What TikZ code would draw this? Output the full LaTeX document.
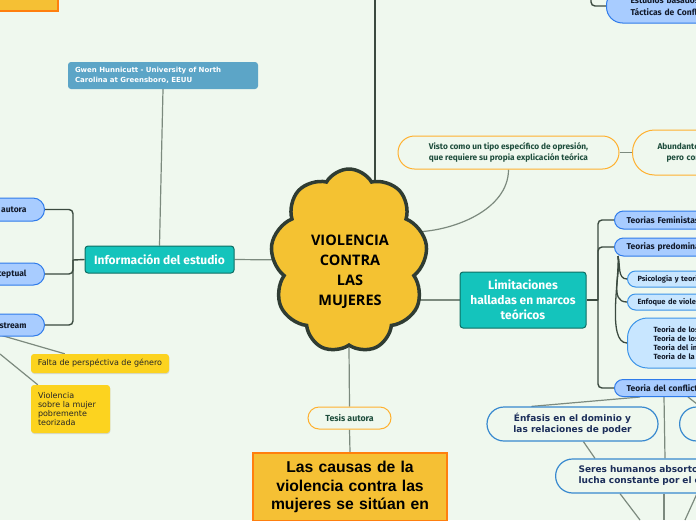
\documentclass[tikz,border=0pt]{standalone}
\usepackage{fontspec}
\setmainfont{Fira Sans}
\newfontfamily\dvs{DejaVu Sans}
\newfontfamily\libs{Liberation Sans}
\newfontfamily\opens{Open Sans}
\usetikzlibrary{shapes.symbols,shadows}
\definecolor{bgc}{HTML}{EFF8EE}
\definecolor{cloudf}{HTML}{F4C232}
\definecolor{cloudb}{HTML}{2F3C33}
\definecolor{boxy}{HTML}{F5C034}
\definecolor{orng}{HTML}{FF7F0E}
\definecolor{tealf}{HTML}{14C4BC}
\definecolor{tealb}{HTML}{0D6E63}
\definecolor{gwenf}{HTML}{5CA5C7}
\definecolor{yelf}{HTML}{FCD31F}
\definecolor{pbf}{HTML}{A8CCFF}
\definecolor{pbb}{HTML}{2F7BEA}
\definecolor{plf}{HTML}{C8E6FF}
\definecolor{plb}{HTML}{3C94E8}
\definecolor{pob}{HTML}{FFB02E}
\definecolor{dgreen}{HTML}{1E4D3C}
\definecolor{navyb}{HTML}{3889CF}
\definecolor{navyt}{HTML}{1C2E5A}
\definecolor{darktxt}{HTML}{121A2A}
\definecolor{conngray}{HTML}{7C8A7E}
\definecolor{darkline}{HTML}{3B4A3F}
\pgfdeclarelayer{bglayer}
\pgfdeclarelayer{edges}
\pgfsetlayers{bglayer,edges,main}
\tikzset{
  conn/.style={draw=conngray, line width=1.2pt},
  brk/.style={draw=darkline, line width=1.4pt, rounded corners=4pt},
  tealbox/.style={draw=tealb, fill=tealf, line width=1pt, rounded corners=3pt, text=white, font=\bfseries\fontsize{12}{15}\selectfont, align=center, inner sep=0pt},
  bluepill/.style={draw=pbb, fill=pbf, line width=1pt, text=darktxt, font=\bfseries\fontsize{8.5}{12}\selectfont, align=left, inner sep=0pt},
  lightpill/.style={draw=plb, fill=plf, line width=1pt, text=darktxt, font=\bfseries\fontsize{7.5}{9.3}\selectfont, align=left, inner sep=0pt},
  orpill/.style={draw=pob, fill=bgc, line width=1pt, text=dgreen, font=\bfseries\fontsize{8.3}{11}\selectfont, align=center, inner sep=0pt},
  navypill/.style={draw=navyb, fill=bgc, line width=1.2pt, text=navyt, font=\dvs\bfseries\fontsize{9}{11}\selectfont, align=center, inner sep=0pt},
  yelbox/.style={fill=yelf, rounded corners=3pt, text=black!85, font=\dvs\fontsize{8}{9.3}\selectfont, inner sep=0pt, drop shadow={opacity=0.25, shadow xshift=0.4pt, shadow yshift=-1pt}},
}
\begin{document}
\begin{tikzpicture}[x=1pt,y=-1pt]
\useasboundingbox (0,0) rectangle (696,520);
\begin{pgfonlayer}{bglayer}
\fill[bgc] (0,0) rectangle (696,520);
\end{pgfonlayer}
\clip (0,0) rectangle (696,520);

% top-left orange box
\node[draw=orng, fill=boxy, line width=2pt, minimum width=70pt, minimum height=22pt, inner sep=0pt] (tl) at (23,0) {};

% cloud
\node[cloud, cloud puffs=9, cloud puff arc=120, aspect=0.85, draw=cloudb, fill=cloudf, line width=3.5pt, minimum width=157pt, minimum height=184pt, inner sep=0pt] (cloud) at (349,261) {};
\node[font=\opens\bfseries\fontsize{14.5}{20}\selectfont, align=center, inner sep=0pt] (cloudtxt) at (350,272) {VIOLENCIA\\CONTRA\\LAS\\MUJERES};

% Gwen
\node[fill=gwenf, rounded corners=3pt, text=white, font=\dvs\bfseries\fontsize{7}{10}\selectfont, align=left, text width=176pt, inner xsep=7pt, minimum height=27pt, inner ysep=0pt] (gwen) at (163,75.5) {Gwen Hunnicutt - University of North\\Carolina at Greensboro, EEUU};

% Informacion
\node[tealbox, minimum width=149pt, minimum height=27pt] (info) at (159.5,259.5) {Información del estudio};

% left pills
\node[bluepill, anchor=east, minimum width=116pt, minimum height=23pt, rounded corners=11.5pt, text width=80pt, align=right, inner xsep=18pt] (pa) at (45,209.5) {la autora};
\node[bluepill, anchor=east, minimum width=116pt, minimum height=22pt, rounded corners=11pt, text width=80pt, align=right, inner xsep=18pt] (pb) at (45,274) {Marco conceptual};
\node[bluepill, anchor=east, minimum width=116pt, minimum height=22pt, rounded corners=11pt, text width=80pt, align=right, inner xsep=18pt] (pc) at (45,325) {mainstream};

% yellow boxes
\node[yelbox, minimum width=138pt, minimum height=19pt] (falta) at (100,363.5) {Falta de perspéctiva de género};
\node[yelbox, minimum width=75pt, minimum height=48pt, text width=65pt, align=left, inner xsep=7pt] (viol) at (70.5,409) {Violencia\\sobre la mujer\\pobremente\\teorizada};

% Tesis
\node[orpill, minimum width=83pt, minimum height=22pt, rounded corners=11pt, font=\bfseries\fontsize{8.8}{10}\selectfont] (tesis) at (349.5,418) {Tesis autora};

% big box
\node[draw=orng, fill=boxy, line width=2pt, anchor=north, text width=180pt, align=center, inner xsep=7pt, inner ysep=8pt, font=\libs\bfseries\fontsize{15.7}{18.7}\selectfont] (big) at (350,452) {Las causas de la\\violencia contra las\\mujeres se sitúan en};

% Visto
\node[orpill, minimum width=221pt, minimum height=33pt, rounded corners=16.5pt] (visto) at (508.5,152.5) {Visto como un tipo específico de opresión,\\que requiere su propia explicación teórica};
\node[orpill, anchor=west, minimum width=116pt, minimum height=45pt, rounded corners=22pt, text width=90pt, align=left, inner xsep=25pt] (abund) at (632,152.5) {Abundantes estudios\\\hspace*{9pt}pero con};

% top right pill
\node[bluepill, anchor=west, minimum width=130pt, minimum height=34pt, rounded corners=16pt, text width=100pt, inner xsep=24pt] (tr) at (606,6) {Estudios basados en\\Tácticas de Conflicto};

% Limitaciones
\node[tealbox, minimum width=126pt, minimum height=56pt] (lim) at (523,300) {Limitaciones\\halladas en marcos\\teóricos};

% right blue pills
\node[bluepill, anchor=west, minimum width=110pt, minimum height=18pt, rounded corners=9pt, text width=100pt, inner xsep=12pt] (tf) at (614,220) {Teorias Feministas};
\node[bluepill, anchor=west, minimum width=110pt, minimum height=18pt, rounded corners=9pt, text width=100pt, inner xsep=12pt] (tp) at (614,247) {Teorias predominantes};
\node[bluepill, anchor=west, minimum width=110pt, minimum height=17pt, rounded corners=8.5pt, text width=100pt, inner xsep=12pt] (tc) at (614,388) {Teoria del conflicto};

% light pills
\node[lightpill, anchor=west, minimum width=100pt, minimum height=16pt, rounded corners=8pt, text width=90pt, inner xsep=10pt] (psi) at (627,279) {Psicologia y teorias};
\node[lightpill, anchor=west, minimum width=100pt, minimum height=16pt, rounded corners=8pt, text width=90pt, inner xsep=10pt] (enf) at (627,302) {Enfoque de violencia};
\node[lightpill, anchor=west, minimum width=110pt, minimum height=50pt, rounded corners=20pt, text width=84pt, inner xsep=26pt] (tlos) at (627,343) {Teoria de los recursos\\Teoria de los sistemas\\Teoria del intercambio\\Teoria de la subcultura};

% navy pills
\node[navypill, minimum width=171pt, minimum height=34pt, rounded corners=17pt] (enfa) at (572.5,424) {Énfasis en el dominio y\\las relaciones de poder};
\node[navypill, anchor=west, minimum width=100pt, minimum height=34pt, rounded corners=17pt] (rp) at (679,424) {};
\node[navypill, anchor=west, minimum width=190pt, minimum height=34pt, rounded corners=17pt, text width=170pt, align=left, inner xsep=23pt] (seres) at (555,476) {Seres humanos absortos en una\\lucha constante por el equilibrio};

% free end coordinates
\coordinate (toptop) at (375,0);
\coordinate (topcl) at (375,200);
\coordinate (clR1) at (412,232);
\coordinate (clR2) at (410,300);
\coordinate (clL) at (290,260);
\coordinate (ib) at (73,260);
\coordinate (lb) at (598,300);
\coordinate (trtop) at (591,-5);
\coordinate (tpb) at (618,256);
\coordinate (fs) at (0,335);
\coordinate (vs) at (0,354);
\coordinate (s1) at (640,520);
\coordinate (s2) at (664,520);
\coordinate (s3) at (685,520);

\begin{pgfonlayer}{edges}
\draw[draw=darkline, line width=2.7pt] (toptop) -- (topcl);
\draw[conn] (gwen.south) -- (info.north);
\draw[conn] (info.east) -- (clL);
\draw[conn] (cloud.south) -- (tesis.north);
\draw[conn] (tesis.south) -- (big.north);
\draw[conn] (visto.south) to[out=-90, in=0, looseness=0.9] (clR1);
\draw[conn, line width=1.5pt] (visto.east) -- (abund.west);
\draw[conn] (lim.west) -- (clR2);
\draw[brk] (info.west) -- (ib);
\draw[brk] (ib) |- (pa.east);
\draw[brk] (ib) |- (pb.east);
\draw[brk] (ib) |- (pc.east);
\draw[conn] (fs) -- ([xshift=34pt]falta.north west);
\draw[conn] (vs) -- ([xshift=7pt]viol.north west);
\draw[brk] (lim.east) -- (lb);
\draw[brk] (lb) |- (tf.west);
\draw[brk] (lb) |- (tp.west);
\draw[brk] (lb) |- (tc.west);
\draw[brk] (trtop) |- (tr.west);
\draw[draw=darkline, line width=1.3pt] (tpb) to[out=-75, in=180] (psi.west);
\draw[draw=darkline, line width=1.3pt] (tpb) to[out=-80, in=180] (enf.west);
\draw[draw=darkline, line width=1.3pt] (tpb) to[out=-85, in=180, looseness=0.6] (tlos.west);
\draw[conn] ([xshift=26pt]tc.south west) -- ([xshift=45pt]enfa.north west);
\draw[conn] ([xshift=50pt]tc.south west) -- ([xshift=110pt]seres.north west);
\draw[conn] ([xshift=74pt]tc.south west) -- ([xshift=21pt]rp.north west);
\draw[conn] ([xshift=97pt]enfa.south west) -- ([xshift=40pt]seres.north west);
\draw[conn] ([xshift=65pt]seres.south west) -- (s1);
\draw[conn] ([xshift=109pt]seres.south west) -- (s2);
\draw[conn] ([xshift=142pt]seres.south west) -- (s3);
\end{pgfonlayer}
\end{tikzpicture}
\end{document}
